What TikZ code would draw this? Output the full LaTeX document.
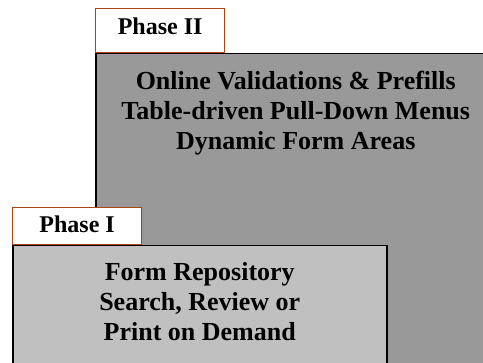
\documentclass[tikz,border=0pt]{standalone}
\usepackage{fontspec}
\setmainfont{Liberation Serif}
\usetikzlibrary{positioning}
\definecolor{tabrim}{RGB}{168,70,20}
\definecolor{paneldark}{RGB}{153,153,153}
\definecolor{panellight}{RGB}{192,192,192}

\begin{document}
\begin{tikzpicture}[x=1pt,y=1pt,
  panel/.style={draw=black,line width=1.5pt,inner sep=0pt,anchor=north west},
  tab/.style={draw=tabrim,fill=white,line width=1.2pt,inner sep=0pt,minimum width=129pt,anchor=south west,font=\fontsize{24}{28}\selectfont\bfseries},
  items/.style={inner sep=0pt,align=center,font=\fontsize{26}{30}\selectfont\bfseries}]
\useasboundingbox (0,0) rectangle (483,363);
\clip (0,0) rectangle (483,363);
% second phase, sitting behind
\node[tab,minimum height=44pt,text depth=8pt](tabII) at (95,310){Phase II};
\node[panel,fill=paneldark,minimum width=400pt,minimum height=330pt](panelII) at (tabII.south west){};
\node[items, below=18pt of panelII.north](listII){Online Validations \& Prefills\\Table-driven Pull-Down Menus\\Dynamic Form Areas};
% first phase in front
\node[tab,minimum height=37pt,text depth=3pt](tabI) at (12,118){Phase I};
\node[panel,fill=panellight,minimum width=374pt,minimum height=130pt](panelI) at (tabI.south west){};
\node[items, below=17pt of panelI.north](listI){Form Repository\\Search, Review or\\Print on Demand};
\end{tikzpicture}
\end{document}
